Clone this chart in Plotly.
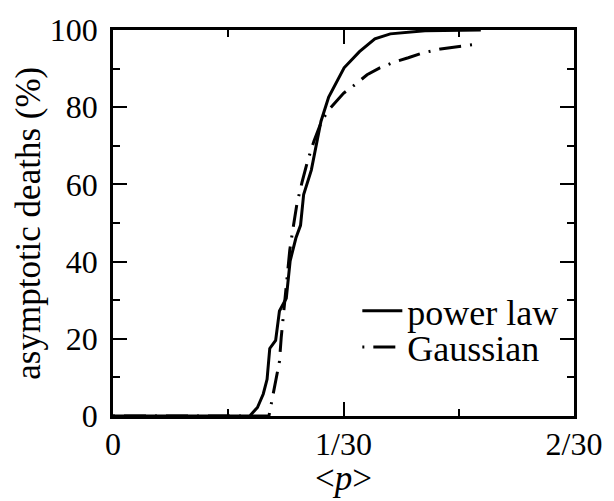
import plotly.graph_objects as go

# power law curve
pl_x = [0.0, 0.005, 0.010, 0.015, 0.01977, 0.02089, 0.02173, 0.02228, 0.02267, 0.02352,
        0.02407, 0.02506, 0.02562, 0.02645, 0.02712, 0.02757, 0.02868, 0.03007, 0.03119,
        0.03342, 0.03564, 0.03787, 0.04010, 0.04511, 0.05319]
pl_y = [0.0, 0.0, 0.0, 0.0, 0.0, 2.2, 5.7, 9.5, 17.5, 19.6,
        27.2, 30.5, 40.2, 46.1, 49.4, 57.4, 63.7, 76.3, 82.6,
        90.2, 94.4, 97.7, 99.0, 99.8, 100.0]

# Gaussian curve
ga_x = [0.0, 0.005, 0.010, 0.015, 0.020, 0.02255, 0.02312, 0.02355, 0.02407, 0.02433,
        0.02468, 0.02501, 0.02557, 0.02606, 0.02662, 0.02733, 0.02818, 0.02908, 0.03021,
        0.03135, 0.03220, 0.03333, 0.03504, 0.03674, 0.03858, 0.04071, 0.04270, 0.04468,
        0.04738, 0.05106, 0.05291]
ga_y = [0.0, 0.0, 0.0, 0.0, 0.0, 0.0, 5.3, 9.6, 14.1, 20.4,
        26.7, 32.5, 43.1, 48.9, 55.2, 60.5, 66.3, 71.3, 76.6,
        79.6, 81.4, 83.6, 85.9, 88.4, 90.2, 91.7, 92.8, 94.0,
        95.1, 96.0, 96.4]

x_tickvals = [0, 1/30, 2/30]
x_ticktext = ["0", "1/30", "2/30"]
y_tickvals = [0, 20, 40, 60, 80, 100]

FONT = "Liberation Serif, Times New Roman, serif"

fig = go.Figure()
fig.add_trace(go.Scatter(x=pl_x, y=pl_y, mode="lines", name="power law",
                         line=dict(color="black", width=3), legend="legend"))
fig.add_trace(go.Scatter(x=ga_x, y=ga_y, mode="lines", name="Gaussian",
                         line=dict(color="black", width=3, dash="2px,9px,22px,9px"),
                         legend="legend2"))

axis_common = dict(
    showgrid=False, zeroline=False, showline=True, linecolor="black", linewidth=2.5,
    mirror="ticks", ticks="inside", ticklen=14, tickwidth=2, tickcolor="black",
    tickfont=dict(family=FONT, size=32, color="black"),
)

fig.update_xaxes(range=[0, 2/30], tickvals=x_tickvals, ticktext=x_ticktext,
                 minor=dict(dtick=1/60, tick0=0, ticks="inside", ticklen=7, tickwidth=2, tickcolor="black"),
                 ticklabelstandoff=-2,
                 **axis_common)
fig.update_yaxes(range=[0, 100], tickvals=y_tickvals,
                 minor=dict(dtick=10, tick0=0, ticks="inside", ticklen=7, tickwidth=2, tickcolor="black"),
                 ticklabelstandoff=6,
                 **axis_common)

# axis titles as annotations for precise placement
fig.add_annotation(text="&lt;<i>p</i>&gt;", xref="paper", yref="paper", x=0.5, y=-0.162,
                   xanchor="center", yanchor="middle", showarrow=False,
                   font=dict(family=FONT, size=35, color="black"))
fig.add_annotation(text="asymptotic deaths (%)", xref="paper", yref="paper", x=-0.185, y=0.5,
                   xanchor="center", yanchor="middle", showarrow=False, textangle=-90,
                   font=dict(family=FONT, size=35, color="black"))

leg_common = dict(xanchor="left", yanchor="top", font=dict(family=FONT, size=36, color="black"),
                  bgcolor="rgba(0,0,0,0)", itemwidth=40)
fig.update_layout(
    width=614, height=501,
    margin=dict(l=113, r=31, t=19, b=85),
    paper_bgcolor="white", plot_bgcolor="white",
    showlegend=True,
    legend=dict(x=0.530, y=0.350, **leg_common),
    legend2=dict(x=0.530, y=0.256, **leg_common),
)

# remove the browser's default body margin so the figure fills the window exactly
fig.write_html("out.html", config={"displayModeBar": False},
               post_script="document.body.style.margin='0';")
